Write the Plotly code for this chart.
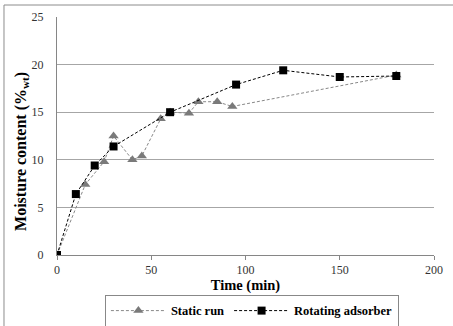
import plotly.graph_objects as go

static_t = [0, 15, 25, 30, 40, 45, 55, 60, 70, 75, 85, 93, 180]
static_m = [0, 7.4, 9.8, 12.5, 10.0, 10.4, 14.3, 15.0, 14.9, 16.1, 16.1, 15.6, 18.9]
rot_t = [0, 10, 20, 30, 60, 95, 120, 150, 180]
rot_m = [0, 6.4, 9.4, 11.4, 15.0, 17.9, 19.4, 18.7, 18.8]

FONT = "Liberation Serif, Times New Roman, serif"

fig = go.Figure()
fig.add_trace(go.Scatter(
    x=static_t, y=static_m, name="Static run", mode="lines+markers",
    line=dict(color="#888888", width=1, dash="3px,2px"),
    marker=dict(symbol="triangle-up", size=9, color="#7a7a7a"),
))
fig.add_trace(go.Scatter(
    x=rot_t, y=rot_m, name="Rotating adsorber", mode="lines+markers",
    line=dict(color="#000000", width=1, dash="3px,2px"),
    marker=dict(symbol="square", size=8, color="#000000"),
))

fig.update_layout(
    width=453, height=326,
    margin=dict(l=57, r=19, t=17, b=71, autoexpand=False),
    paper_bgcolor="white", plot_bgcolor="white",
    font=dict(family=FONT, size=12, color="#333333"),
    showlegend=True,
    legend=dict(
        orientation="h", x=0.517, xanchor="center", y=-0.168, yanchor="top",
        bordercolor="#888888", borderwidth=1, bgcolor="white",
        font=dict(family=FONT, size=12.5, color="#000000", weight="bold"),
        itemwidth=55, tracegroupgap=0,
    ),
    xaxis=dict(
        range=[0, 200], dtick=50, tick0=0, showgrid=False, zeroline=False,
        showline=True, linecolor="#868686", linewidth=1, automargin=False,
        ticks="outside", ticklen=4, tickcolor="#868686",
        tickfont=dict(family=FONT, size=12, color="#333333"),
        title=dict(text="Time (min)", standoff=3,
                   font=dict(family=FONT, size=14.5, color="#000000", weight="bold")),
    ),
    yaxis=dict(
        range=[0, 25], dtick=5, tick0=0, showgrid=True, gridcolor="#a6a6a6", gridwidth=1,
        zeroline=False, showline=True, linecolor="#868686", linewidth=1, automargin=False,
        ticks="", ticklabelstandoff=10,
        tickfont=dict(family=FONT, size=12, color="#333333"),
    ),
    annotations=[dict(
        text="Moisture content (%<sub>wt</sub>)", xref="paper", yref="paper",
        x=-0.093, y=0.437, xanchor="center", yanchor="middle", textangle=-90,
        showarrow=False, font=dict(family=FONT, size=16, color="#000000", weight="bold"),
    )],
    shapes=[dict(type="rect", xref="paper", yref="paper",
                 x0=-0.1406, x1=1.3, y0=-0.5, y1=1.0504,
                 line=dict(color="#8c8c8c", width=1), fillcolor="rgba(0,0,0,0)",
                 layer="above")],
)

fig.write_html("out.html", config={"displayModeBar": False},
               post_script="document.body.style.margin='0';document.body.style.overflow='hidden';")
